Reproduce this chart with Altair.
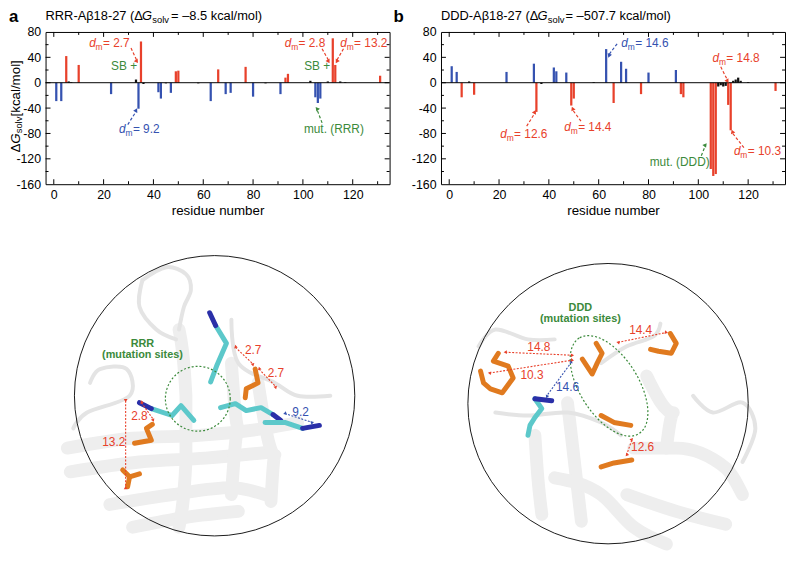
import math
import altair as alt
import pandas as pd

FONT = "Liberation Sans"
RED = "#e8412b"
BLUE = "#3552b0"
GREEN = "#3b8a3b"
ORANGE = "#e07a1f"
CYAN = "#5cc8ca"
NAVY = "#2a2fa8"

# ---------------- axis ranges of the bar panels ----------------
X_MIN, X_MAX = -3.3, 134.8
Y_MIN, Y_MAX = -160, 80
W, H = 348, 154
KX = W / (X_MAX - X_MIN)
KY = H / (Y_MAX - Y_MIN)

x_major = [0, 20, 40, 60, 80, 100, 120]
x_minor = [10, 30, 50, 70, 90, 110, 130]
y_major = [-160, -120, -80, -40, 0, 40, 80]
y_minor = [-140, -100, -60, -20, 20, 60]

# ---------------- panel a : RRR ----------------
a_red_res = [5, 10, 35, 49, 50, 66, 77, 93, 94, 112, 113, 131]
a_red_val = [42, 28, 65, 18, 19, 21, 25, 8, 14, 70, 28, 11]
a_blue_res = [1, 3, 23, 34, 42, 43, 47, 63, 69, 71, 80, 91, 105, 106, 107]
a_blue_val = [-29, -29, -18, -41, -15, -25, -16, -29, -18, -16, -22, -18, -23, -32, -25]
a_blk_res = [6, 7, 33, 36, 45, 58, 85, 103, 110, 115, 117]
a_blk_val = [2, 1, 5, -2, -1, -1, -1, 3, 2, 2, 1]

a_dm_x = [14.2, 26.2, 92.7, 115.0]
a_dm_y = [57, -79, 57, 57]
a_dm_num = ["2.7", "9.2", "2.8", "13.2"]
a_dm_grp = ["red", "blue", "red", "red"]

a_nt_x = [23.0, 100.5, 100.4]
a_nt_y = [20.5, 20.5, -79]
a_nt_txt = ["SB +", "SB +", "mut. (RRR)"]
a_nt_grp = ["green", "green", "green"]

a_ar_x1 = [31.0, 29.7, 107.7, 116.3, 107.7]
a_ar_y1 = [54.6, -66, 53.5, 53.5, -63.3]
a_ar_x2 = [33.3, 33.1, 110.3, 113.6, 105.7]
a_ar_y2 = [35.3, -45, 35.3, 35.3, -42.6]
a_ar_grp = ["red", "blue", "red", "red", "green"]

# ---------------- panel b : DDD ----------------
b_blue_res = [1, 3, 23, 34, 42, 43, 47, 63, 69, 71, 80, 91]
b_blue_val = [26, 17, 17, 30, 24, 18, 16, 53, 33, 22, 16, 20]
b_red_res = [5, 10, 35, 49, 50, 66, 77, 93, 94, 105, 106, 107, 112, 113, 131]
b_red_val = [-23, -19, -46, -36, -25, -32, -18, -18, -23, -136, -147, -144, -35, -75, -13]
b_blk_res = [8, 37, 58, 108, 109, 110, 111, 114, 115, 116, 117, 120]
b_blk_val = [2, -2, 1, -6, -4, -6, -5, 3, 5, 8, 3, 1]

b_dm_x = [69.1, 105.7, 20.5, 46.2, 114.3]
b_dm_y = [57, 32.8, -86.7, -76.3, -113.7]
b_dm_num = ["14.6", "14.8", "12.6", "14.4", "10.3"]
b_dm_grp = ["blue", "red", "red", "red", "red"]

b_nt_x = [80.5]
b_nt_y = [-130.8]
b_nt_txt = ["mut. (DDD)"]
b_nt_grp = ["green"]

b_ar_x1 = [67.4, 109.0, 31.1, 52.9, 101.2, 118.3]
b_ar_y1 = [61.3, 25.0, -68.5, -60.7, -115.0, -102.3]
b_ar_x2 = [64.1, 111.7, 34.4, 49.5, 102.8, 113.6]
b_ar_y2 = [44.2, 4.2, -47.8, -42.6, -99.6, -78.9]
b_ar_grp = ["blue", "red", "red", "red", "green", "red"]

# ---------------- structure panels (image units = px) ----------------
CW, CH = 348, 350
ca_center = (171, 180)
cb_center = (169, 188)
CIRCLE_R = 160

ca_ell = (154, 183)
cb_ell = (170, 170)

ca_lab_txt = ["2.7", "2.7", "2.8", "13.2", "9.2"]
ca_lab_x = [210, 233, 95, 69, 258]
ca_lab_y = [134, 157, 201, 227, 196]
ca_lab_grp = ["red", "red", "red", "red", "blue"]
ca_dist_x1 = [192, 216, 97, 81, 242]
ca_dist_y1 = [131, 153, 187, 185, 198]
ca_dist_x2 = [210, 233, 109, 81, 270]
ca_dist_y2 = [148, 171, 204, 273, 207]
ca_dist_grp = ["red", "red", "red", "red", "blue"]
ca_mut = ["RRR", "(mutation sites)"]
ca_mut_x = [98, 98]
ca_mut_y = [128, 139]

cb_lab_txt = ["14.4", "14.8", "10.3", "14.6", "12.6"]
cb_lab_x = [202, 99, 92, 128, 204]
cb_lab_y = [114, 131, 159, 171, 232]
cb_lab_grp = ["red", "red", "red", "blue", "red"]
cb_dist_x1 = [179, 65, 49, 132, 193]
cb_dist_y1 = [126, 136, 157, 146, 225]
cb_dist_x2 = [228, 133, 133, 107, 188]
cb_dist_y2 = [116, 139, 144, 180, 239]
cb_dist_grp = ["red", "red", "red", "blue", "red"]
cb_mut = ["DDD", "(mutation sites)"]
cb_mut_x = [141, 141]
cb_mut_y = [91, 102]

# side chains drawn as sticks (image units)
ca_sticks = [
    ("cyan", [(172, 109), (183, 127), (173, 150), (167, 166)]),
    ("navy", [(166, 96), (172, 109)]),
    ("cyan", [(107, 193), (128, 200), (137, 190), (150, 205)]),
    ("navy", [(95, 187), (107, 193)]),
    ("cyan", [(177, 192), (192, 188), (203, 195), (218, 192), (230, 199)]),
    ("navy", [(230, 199), (238, 205)]),
    ("cyan", [(222, 207), (242, 207), (260, 213)]),
    ("navy", [(260, 213), (277, 210)]),
    ("orange", [(212, 153), (215, 167), (203, 173), (202, 182)]),
    ("orange", [(108, 209), (102, 213), (107, 225), (90, 228)]),
    ("orange", [(95, 259), (85, 262), (78, 255)]),
    ("orange", [(85, 262), (83, 272)]),
]
cb_sticks = [
    ("orange", [(58, 137), (53, 145), (68, 150), (73, 162), (62, 177), (50, 173), (43, 167), (40, 155)]),
    ("orange", [(157, 127), (163, 137), (158, 147), (153, 158), (143, 143)]),
    ("orange", [(162, 200), (175, 207), (192, 210)]),
    ("orange", [(162, 252), (175, 248), (193, 245)]),
    ("orange", [(232, 117), (238, 127), (233, 137), (220, 135), (212, 133)]),
    ("cyan", [(95, 183), (102, 193), (95, 202), (90, 210), (88, 220)]),
    ("navy", [(95, 183), (112, 185)]),
]

# protein backbone (grey ribbons): "sheet" = broad strands, "loop" = thin coils
ca_ribbons = [
    ("loop", [(98, 63), (122, 50), (142, 57), (147, 73), (140, 90), (135, 113)]),
    ("loop", [(98, 63), (95, 90), (112, 113), (132, 123)]),
    ("sheet", [(22, 233), (88, 223), (155, 220), (222, 213), (255, 207)]),
    ("sheet", [(25, 257), (95, 247), (162, 243), (228, 237)]),
    ("sheet", [(65, 290), (128, 280), (188, 273), (222, 280)]),
    ("sheet", [(88, 313), (142, 303), (195, 297)]),
    ("sheet", [(135, 113), (142, 180), (142, 247), (135, 313)]),
    ("loop", [(45, 167), (55, 153), (82, 153), (85, 180), (42, 197), (28, 213)]),
    ("sheet", [(188, 147), (195, 213), (188, 280)]),
    ("sheet", [(215, 167), (232, 240), (228, 287)]),
    ("loop", [(188, 103), (195, 147), (232, 167), (255, 180), (288, 180)]),
]
cb_ribbons = [
    ("sheet", [(95, 220), (98, 263), (102, 300)]),
    ("sheet", [(128, 187), (135, 247), (142, 307)]),
    ("sheet", [(115, 263), (162, 280), (195, 313), (228, 330)]),
    ("sheet", [(188, 280), (238, 297), (288, 310)]),
    ("sheet", [(208, 160), (235, 197), (228, 233)]),
    ("sheet", [(195, 233), (238, 233), (288, 253), (305, 280)]),
    ("loop", [(55, 197), (88, 200), (128, 197), (162, 207), (182, 220)]),
    ("loop", [(162, 147), (188, 130), (215, 120), (222, 107)]),
    ("loop", [(255, 180), (275, 197), (305, 187), (318, 213), (305, 247)]),
    ("loop", [(38, 130), (55, 113), (88, 123), (115, 123)]),
]

# ---------------- helpers ----------------
CS = alt.Scale(domain=["red", "blue", "black", "green", "orange", "cyan", "navy"],
               range=[RED, BLUE, "#111111", GREEN, ORANGE, CYAN, NAVY])
COL = alt.Color("grp:N", scale=CS, legend=None)
XS = alt.Scale(domain=[X_MIN, X_MAX], nice=False, zero=False)
YS = alt.Scale(domain=[Y_MIN, Y_MAX], nice=False, zero=False)
XAX = alt.Axis(values=x_major, labelPadding=4, title="residue number", titlePadding=3,
               format="d", labelFontSize=12.5, titleFontSize=13.5)
YAX = alt.Axis(values=y_major, labelPadding=5, title=None, labelExpr="'' + datum.value",
               labelFontSize=12.5)
ONE = pd.DataFrame({"k": [0]})


def xq(f):
    return alt.X(f, type="quantitative", scale=XS, axis=XAX)


def yq(f):
    return alt.Y(f, type="quantitative", scale=YS, axis=YAX)


def head_angle(x1, y1, x2, y2, kx, ky):
    dx = (x2 - x1) * kx
    dy = (y2 - y1) * ky
    return math.degrees(math.atan2(dx, -dy)) % 360


def ptext(text, x, y, size=12.5, style="normal", weight="normal", angle=0, color="black"):
    mk = dict(text=text, font=FONT, fontSize=size, fontStyle=style, fontWeight=weight,
              align="left", baseline="alphabetic", color=color)
    if angle:
        mk["angle"] = angle
    return alt.Chart(ONE).mark_text(**mk).encode(x=alt.value(x), y=alt.value(y))


def bar_panel(red_res, red_val, blue_res, blue_val, blk_res, blk_val,
              dm_x, dm_y, dm_num, dm_grp, nt_x, nt_y, nt_txt, nt_grp,
              ar_x1, ar_y1, ar_x2, ar_y2, ar_grp,
              title_main, title_rest, title_offs, letter, letter_x, ytitle):
    rows = []
    for r, v in zip(red_res, red_val):
        rows.append({"res": r, "val": v, "grp": "red"})
    for r, v in zip(blue_res, blue_val):
        rows.append({"res": r, "val": v, "grp": "blue"})
    for r, v in zip(blk_res, blk_val):
        rows.append({"res": r, "val": v, "grp": "black"})
    bars_df = pd.DataFrame(rows)
    bars = alt.Chart(bars_df).transform_calculate(
        xa="datum.res - 0.45", xb="datum.res + 0.45", zero="0"
    ).mark_rect().encode(x=xq("xa"), x2="xb:Q", y=yq("val"), y2="zero:Q", color=COL)

    # frame ticks (inward) and zero line
    trows = [{"x": X_MIN, "x2": X_MAX, "y": 0, "y2": 0}]
    for v in x_major + x_minor:
        L = 5 if v in x_major else 3
        trows.append({"x": v, "x2": v, "y": Y_MIN, "y2": Y_MIN + L / KY})
        trows.append({"x": v, "x2": v, "y": Y_MAX, "y2": Y_MAX - L / KY})
    for v in y_major + y_minor:
        L = 5 if v in y_major else 3
        if v in (Y_MIN, Y_MAX):
            continue
        trows.append({"x": X_MIN, "x2": X_MIN + L / KX, "y": v, "y2": v})
        trows.append({"x": X_MAX, "x2": X_MAX - L / KX, "y": v, "y2": v})
    ticks = alt.Chart(pd.DataFrame(trows)).mark_rule(color="black", strokeWidth=1).encode(
        x=xq("x"), x2="x2:Q", y=yq("y"), y2="y2:Q")

    dm_df = pd.DataFrame({"x": dm_x, "y": dm_y, "num": ["= " + n for n in dm_num], "grp": dm_grp})
    d1 = alt.Chart(dm_df).mark_text(text="d", font=FONT, fontSize=12, fontStyle="italic",
                                    align="left", baseline="alphabetic").encode(
        x=xq("x"), y=yq("y"), color=COL)
    d2 = alt.Chart(dm_df).mark_text(text="m", font=FONT, fontSize=8.5, dx=6.5, dy=3,
                                    align="left", baseline="alphabetic").encode(
        x=xq("x"), y=yq("y"), color=COL)
    d3 = alt.Chart(dm_df).mark_text(font=FONT, fontSize=12, dx=14,
                                    align="left", baseline="alphabetic").encode(
        x=xq("x"), y=yq("y"), text="num:N", color=COL)

    nt_df = pd.DataFrame({"x": nt_x, "y": nt_y, "t": nt_txt, "grp": nt_grp})
    notes = alt.Chart(nt_df).mark_text(font=FONT, fontSize=12, align="left",
                                       baseline="alphabetic").encode(
        x=xq("x"), y=yq("y"), text="t:N", color=COL)

    ar_df = pd.DataFrame({"x1": ar_x1, "y1": ar_y1, "x2": ar_x2, "y2": ar_y2, "grp": ar_grp,
                          "ang": [head_angle(a, b, c, d, KX, KY)
                                  for a, b, c, d in zip(ar_x1, ar_y1, ar_x2, ar_y2)]})
    arr = alt.Chart(ar_df).mark_rule(strokeDash=[3, 2], strokeWidth=1.2).encode(
        x=xq("x1"), y=yq("y1"), x2="x2:Q", y2="y2:Q", color=COL)
    heads = alt.Chart(ar_df).mark_point(shape="triangle-up", filled=True, size=22, opacity=1).encode(
        x=xq("x2"), y=yq("y2"), angle=alt.Angle("ang:Q", scale=None), color=COL)

    layers = [bars, ticks, notes, arr, heads, d1, d2, d3,
              ptext(letter, letter_x, -10, size=17, weight="bold"),
              ptext(title_main, title_offs[0], -12.5, size=13),
              ptext("G", title_offs[1], -12.5, size=13, style="italic"),
              ptext("solv", title_offs[2], -9.5, size=9.5),
              ptext(title_rest, title_offs[3], -12.5, size=13)]
    if ytitle:
        layers += [ptext("Δ", -25.5, 122, size=13.5, angle=270),
                   ptext("G", -25.5, 113, size=13.5, angle=270, style="italic"),
                   ptext("solv", -23.5, 102.5, size=9.5, angle=270),
                   ptext(" [kcal/mol]", -25.5, 85.5, size=13.5, angle=270)]
    return alt.layer(*layers).properties(
        width=W, height=H, view=alt.ViewBackground(stroke="black", strokeWidth=1))


CXS = alt.Scale(domain=[0, CW], nice=False, zero=False)
CYS = alt.Scale(domain=[0, CH], nice=False, zero=False, reverse=True)


def cx(f):
    return alt.X(f, type="quantitative", scale=CXS, axis=None)


def cy(f):
    return alt.Y(f, type="quantitative", scale=CYS, axis=None)


def polyline_table(items):
    rows = []
    for i, (g, pts) in enumerate(items):
        for j, (px, py) in enumerate(pts):
            rows.append({"id": i, "o": j, "x": px, "y": py, "grp": g})
    return pd.DataFrame(rows)


def struct_panel(center, ell, ell_circle, ribbons, sticks, lab_txt, lab_x, lab_y, lab_grp,
                 d_x1, d_y1, d_x2, d_y2, d_grp, mut, mut_x, mut_y):
    rib = polyline_table(ribbons)
    sheets = alt.Chart(rib).transform_filter("datum.grp == 'sheet'").mark_line(
        strokeWidth=13, strokeCap="round", strokeJoin="round", color="#eeeeee",
        interpolate="monotone").encode(x=cx("x"), y=cy("y"), detail="id:N", order="o:Q")
    loops = alt.Chart(rib).transform_filter("datum.grp == 'loop'").mark_line(
        strokeWidth=4, strokeCap="round", strokeJoin="round", color="#e4e4e4",
        interpolate="cardinal").encode(x=cx("x"), y=cy("y"), detail="id:N", order="o:Q")

    st = alt.Chart(polyline_table(sticks)).mark_line(strokeWidth=5, strokeCap="round",
                                                     strokeJoin="round").encode(
        x=cx("x"), y=cy("y"), detail="id:N", order="o:Q", color=COL)

    circ = alt.Chart(pd.DataFrame({"x": [center[0]], "y": [center[1]]})).mark_point(
        shape="circle", size=math.pi * CIRCLE_R ** 2, filled=False, color="black",
        strokeWidth=0.9, opacity=1).encode(x=cx("x"), y=cy("y"))

    edf = pd.DataFrame({"x": [ell[0]], "y": [ell[1]]})
    if ell_circle:
        el = alt.Chart(edf).mark_point(shape="circle", size=math.pi * 37 ** 2, filled=False,
                                       color=GREEN, strokeWidth=1.2, strokeDash=[2, 2],
                                       opacity=1).encode(x=cx("x"), y=cy("y"))
    else:
        el = alt.Chart(edf).mark_point(shape="M -1 0 A 1 0.52 0 1 0 1 0 A 1 0.52 0 1 0 -1 0 Z",
                                       size=114 ** 2, angle=58, filled=False, color=GREEN,
                                       strokeWidth=1.2, strokeDash=[2, 2], opacity=1).encode(
            x=cx("x"), y=cy("y"))

    ddf = pd.DataFrame({"x1": d_x1, "y1": d_y1, "x2": d_x2, "y2": d_y2, "grp": d_grp})
    ddf["a2"] = [head_angle(a, b, c, d, 1, -1) for a, b, c, d in zip(d_x1, d_y1, d_x2, d_y2)]
    ddf["a1"] = [head_angle(c, d, a, b, 1, -1) for a, b, c, d in zip(d_x1, d_y1, d_x2, d_y2)]
    dl = alt.Chart(ddf).mark_rule(strokeDash=[2, 1.5], strokeWidth=1.1).encode(
        x=cx("x1"), y=cy("y1"), x2="x2:Q", y2="y2:Q", color=COL)
    h1 = alt.Chart(ddf).mark_point(shape="triangle-up", filled=True, size=14, opacity=1).encode(
        x=cx("x1"), y=cy("y1"), angle=alt.Angle("a1:Q", scale=None), color=COL)
    h2 = alt.Chart(ddf).mark_point(shape="triangle-up", filled=True, size=14, opacity=1).encode(
        x=cx("x2"), y=cy("y2"), angle=alt.Angle("a2:Q", scale=None), color=COL)

    ldf = pd.DataFrame({"x": lab_x, "y": lab_y, "t": lab_txt, "grp": lab_grp})
    lt = alt.Chart(ldf).mark_text(font=FONT, fontSize=12, align="center", baseline="middle").encode(
        x=cx("x"), y=cy("y"), text="t:N", color=COL)

    mdf = pd.DataFrame({"x": mut_x, "y": mut_y, "t": mut})
    mt = alt.Chart(mdf).mark_text(font=FONT, fontSize=11, fontWeight="bold", color=GREEN,
                                  align="center", baseline="middle").encode(
        x=cx("x"), y=cy("y"), text="t:N")

    return alt.layer(sheets, loops, st, el, dl, h1, h2, lt, mt, circ).properties(
        width=CW, height=CH, view=alt.ViewBackground(stroke="transparent"))


panel_a = bar_panel(a_red_res, a_red_val, a_blue_res, a_blue_val, a_blk_res, a_blk_val,
                    a_dm_x, a_dm_y, a_dm_num, a_dm_grp, a_nt_x, a_nt_y, a_nt_txt, a_nt_grp,
                    a_ar_x1, a_ar_y1, a_ar_x2, a_ar_y2, a_ar_grp,
                    "RRR-Aβ18-27 (Δ", "= –8.5 kcal/mol)", [0, 97.5, 108, 127], "a", -37, True)
panel_b = bar_panel(b_red_res, b_red_val, b_blue_res, b_blue_val, b_blk_res, b_blk_val,
                    b_dm_x, b_dm_y, b_dm_num, b_dm_grp, b_nt_x, b_nt_y, b_nt_txt, b_nt_grp,
                    b_ar_x1, b_ar_y1, b_ar_x2, b_ar_y2, b_ar_grp,
                    "DDD-Aβ18-27 (Δ", "= –507.7 kcal/mol)", [0, 97.5, 108, 126], "b", -48, False)
struct_a = struct_panel(ca_center, ca_ell, True, ca_ribbons, ca_sticks, ca_lab_txt, ca_lab_x,
                        ca_lab_y, ca_lab_grp, ca_dist_x1, ca_dist_y1, ca_dist_x2, ca_dist_y2,
                        ca_dist_grp, ca_mut, ca_mut_x, ca_mut_y)
struct_b = struct_panel(cb_center, cb_ell, False, cb_ribbons, cb_sticks, cb_lab_txt, cb_lab_x,
                        cb_lab_y, cb_lab_grp, cb_dist_x1, cb_dist_y1, cb_dist_x2, cb_dist_y2,
                        cb_dist_grp, cb_mut, cb_mut_x, cb_mut_y)

chart = alt.concat(panel_a, panel_b, struct_a, struct_b, columns=2,
                   spacing={"row": 34, "column": 52}, bounds="flush", align="each").properties(
    padding={"top": -4, "left": 0, "right": 0, "bottom": 0}
).configure(font=FONT).configure_axis(
    grid=False, ticks=False, tickSize=0, domain=False, labelColor="black", titleColor="black",
    labelFont=FONT, titleFont=FONT, titleFontWeight="normal"
)

chart.save("out.html", embed_options={"renderer": "svg", "actions": False})
